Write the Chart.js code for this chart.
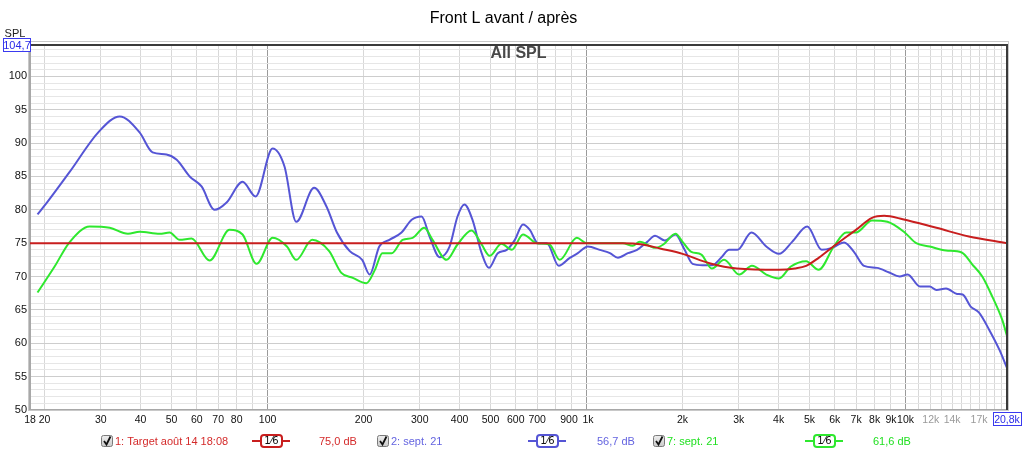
<!DOCTYPE html>
<html>
<head>
<meta charset="utf-8">
<title>Front L avant / après</title>
<script src="https://cdn.jsdelivr.net/npm/chart.js@4.4.0/dist/chart.umd.min.js"></script>
<style>
  body { margin: 0; background: #fff; }
  #wrap { width: 1024px; height: 452px; }
</style>
</head>
<body>
<div id="wrap"><canvas id="myChart" width="1024" height="452"></canvas></div>
<script>
// frequency (Hz) / level (dB)
var targetFreq = [18, 1300, 1500, 1700, 2000, 2430, 2960, 4010, 4500, 4880, 5340, 6050, 6990, 7850, 8570, 9800, 12500, 15800, 20800];
var targetDb = [75, 75, 74.8, 74.2, 73.4, 72.0, 71.2, 71.0, 71.2, 71.6, 72.8, 74.8, 77.0, 78.8, 79.1, 78.6, 77.3, 76.0, 75.0];

var beforeFreq = [19, 20.5, 23.9, 29.7, 34.4, 39.7, 43.6, 48.2, 51.9, 57, 62.1, 68.2, 74.4, 83.5, 91.7, 103.7, 113, 123, 140, 153, 165, 181, 198, 209, 224, 241, 263, 283, 304, 322, 346, 372, 394, 414, 439, 469, 494, 527, 562, 596, 632, 664, 704, 751, 818, 886, 939, 1010, 1100, 1184, 1254, 1348, 1440, 1550, 1640, 1760, 1900, 2030, 2150, 2310, 2480, 2640, 2800, 2970, 3290, 3660, 4010, 4410, 4920, 5460, 5880, 6420, 6890, 7410, 8140, 8890, 9580, 10150, 11100, 11900, 12500, 13400, 14500, 15100, 16000, 17000, 18300, 19700, 20800];
var beforeDb = [79.3, 81.3, 85.6, 91.8, 94.0, 91.6, 88.6, 88.3, 87.5, 85.0, 83.5, 80.0, 81.1, 84.2, 82.0, 89.2, 86.5, 78.2, 83.3, 80.5, 76.6, 73.8, 72.5, 70.3, 74.5, 75.5, 76.6, 78.5, 79.0, 76.0, 72.9, 74.5, 79.0, 80.8, 78.5, 73.5, 71.3, 73.5, 74.0, 75.5, 77.8, 77.0, 75.0, 75.0, 71.6, 72.8, 73.5, 74.5, 74.0, 73.5, 72.8, 73.5, 74.0, 75.2, 76.1, 75.4, 76.3, 74.0, 71.9, 71.7, 71.7, 72.8, 74.0, 74.0, 76.6, 74.5, 73.4, 75.2, 77.5, 74.0, 74.3, 75.1, 73.7, 71.6, 71.3, 70.6, 70.0, 70.3, 68.5, 68.5, 68.0, 68.2, 67.4, 67.3, 65.5, 64.6, 62.0, 59.0, 56.3];

var afterFreq = [19, 21.5, 23.9, 27.7, 32, 36.5, 39.7, 45.9, 49.3, 53, 57.8, 65.8, 76, 83.5, 92.4, 103.7, 115, 123, 138, 156, 170, 185, 204, 217, 229, 245, 265, 285, 310, 329, 364, 394, 436, 469, 497, 541, 583, 632, 698, 765, 824, 932, 1000, 1127, 1300, 1395, 1468, 1640, 1740, 1900, 2000, 2130, 2290, 2470, 2700, 3010, 3300, 3660, 4010, 4370, 4880, 5340, 5960, 6520, 6990, 7850, 8770, 9940, 10800, 11900, 13400, 15000, 16200, 17400, 18700, 20100, 20800];
var afterDb = [67.6, 71.5, 75.1, 77.5, 77.3, 76.4, 76.7, 76.4, 76.6, 75.5, 75.7, 72.4, 77.0, 76.3, 71.9, 75.8, 74.5, 72.5, 75.5, 73.8, 70.6, 69.8, 69.0, 71.0, 73.5, 73.5, 75.5, 75.8, 77.3, 75.5, 72.5, 74.8, 76.9, 74.8, 73.1, 74.9, 74.0, 76.3, 75.0, 74.8, 72.5, 75.8, 75.0, 75.0, 75.0, 74.6, 75.2, 74.3, 74.8, 76.4, 75.2, 73.7, 73.3, 71.2, 72.5, 70.3, 71.6, 70.3, 69.7, 71.5, 72.3, 71.0, 74.5, 76.6, 76.6, 78.4, 78.2, 76.6, 75.0, 74.5, 73.9, 73.6, 71.8, 70.0, 67.0, 63.5, 61.1];

// axis ticks
var freqTicks = [18, 20, 30, 40, 50, 60, 70, 80, 90, 100, 200, 300, 400, 500, 600, 700, 800, 900, 1000, 2000, 3000, 4000, 5000, 6000, 7000, 8000, 9000, 10000, 11000, 12000, 13000, 14000, 15000, 16000, 17000, 18000, 19000, 20000, 20800];
var freqLabels = {
  18: "18", 20: "20", 30: "30", 40: "40", 50: "50", 60: "60", 70: "70", 80: "80", 100: "100",
  200: "200", 300: "300", 400: "400", 500: "500", 600: "600", 700: "700", 900: "900  ", 1000: " 1k",
  2000: "2k", 3000: "3k", 4000: "4k", 5000: "5k", 6000: "6k", 7000: "7k", 8000: "8k", 9000: "9k", 10000: "10k",
  12000: "12k", 14000: "14k", 17000: "17k", 20800: "20,8k"
};
var greyLabels = [12000, 14000, 17000];
var dbMin = 50;
var dbMax = 104.7;

var legendItems = [
  { name: "1: Target août 14 18:08", level: "75,0 dB", color: "#c81e1e", text: "#d42a2a", box: 101, line: 252, value: 319 },
  { name: "2: sept. 21", level: "56,7 dB", color: "#5555d5", text: "#6464e0", box: 377, line: 528, value: 597 },
  { name: "7: sept. 21", level: "61,6 dB", color: "#2ee82e", text: "#22e022", box: 653, line: 805, value: 873 }
];

function toPoints(xs, ys) {
  return xs.map(function (x, i) {
    return { x: x, y: ys[i] };
  });
}

function roundRect(ctx, x, y, w, h, r) {
  ctx.beginPath();
  ctx.moveTo(x + r, y);
  ctx.lineTo(x + w - r, y);
  ctx.quadraticCurveTo(x + w, y, x + w, y + r);
  ctx.lineTo(x + w, y + h - r);
  ctx.quadraticCurveTo(x + w, y + h, x + w - r, y + h);
  ctx.lineTo(x + r, y + h);
  ctx.quadraticCurveTo(x, y + h, x, y + h - r);
  ctx.lineTo(x, y + r);
  ctx.quadraticCurveTo(x, y, x + r, y);
  ctx.closePath();
}

// frame, "All SPL", boxed labels and the legend row
var decorPlugin = {
  id: "decor",
  beforeDatasetsDraw: function (chart) {
    var ctx = chart.ctx;
    var a = chart.chartArea;
    ctx.save();
    ctx.font = "bold 16px 'Liberation Sans', Arial, sans-serif";
    ctx.fillStyle = "#484848";
    ctx.textAlign = "center";
    ctx.textBaseline = "middle";
    ctx.fillText("All SPL", (a.left + a.right) / 2, a.top + 9);
    ctx.restore();
  },
  afterDraw: function (chart) {
    var ctx = chart.ctx;
    var a = chart.chartArea;
    ctx.save();
    // outer frame
    ctx.strokeStyle = "#c8c8c8";
    ctx.lineWidth = 1;
    ctx.strokeRect(a.left - 1.5, a.top - 3.5, a.right - a.left + 3, a.bottom - a.top + 4);
    ctx.strokeStyle = "#3a3a3a";
    ctx.lineWidth = 2;
    ctx.beginPath();
    ctx.moveTo(a.left, a.top);
    ctx.lineTo(a.right, a.top);
    ctx.lineTo(a.right, a.bottom);
    ctx.stroke();

    ctx.font = "11px 'Liberation Sans', Arial, sans-serif";
    ctx.textAlign = "center";
    ctx.textBaseline = "middle";
    ctx.fillStyle = "#222";
    ctx.fillText("SPL", 15, 34);

    // boxed max level
    ctx.fillStyle = "#fff";
    ctx.fillRect(3, 38, 28, 14);
    ctx.strokeStyle = "#3a3af0";
    ctx.lineWidth = 1;
    ctx.strokeRect(3.5, 38.5, 27, 13);
    ctx.fillStyle = "#2a2ae8";
    ctx.fillText(dbMax.toString().replace(".", ","), 17, 45.5);

    // boxed right frequency
    ctx.strokeRect(993.5, 412.5, 28, 13);

    // legend row
    var y = 441;
    legendItems.forEach(function (it) {
      // checkbox
      var g = ctx.createLinearGradient(0, y - 6, 0, y + 6);
      g.addColorStop(0, "#f0f0f0");
      g.addColorStop(1, "#c8c8c8");
      ctx.fillStyle = g;
      roundRect(ctx, it.box + 0.5, y - 5.5, 11, 11, 2);
      ctx.fill();
      ctx.strokeStyle = "#7a7a7a";
      ctx.lineWidth = 1;
      ctx.stroke();
      ctx.strokeStyle = "#111";
      ctx.lineWidth = 1.8;
      ctx.beginPath();
      ctx.moveTo(it.box + 3, y);
      ctx.lineTo(it.box + 5.5, y + 3.5);
      ctx.lineTo(it.box + 9.5, y - 4.5);
      ctx.stroke();

      ctx.font = "11px 'Liberation Sans', Arial, sans-serif";
      ctx.textAlign = "left";
      ctx.fillStyle = it.text;
      ctx.fillText(it.name, it.box + 14, y + 0.5);
      ctx.fillText(it.level, it.value, y + 0.5);

      // line sample with smoothing box
      ctx.strokeStyle = it.color;
      ctx.lineWidth = 2;
      ctx.beginPath();
      ctx.moveTo(it.line, y);
      ctx.lineTo(it.line + 38, y);
      ctx.stroke();
      ctx.fillStyle = "#fff";
      roundRect(ctx, it.line + 9, y - 6, 21, 12, 3);
      ctx.fill();
      ctx.stroke();
      ctx.fillStyle = "#111";
      ctx.textAlign = "center";
      ctx.font = "10px 'DejaVu Sans', sans-serif";
      ctx.fillText("1⁄6", it.line + 19.5, y + 0.5);
    });
    ctx.restore();
  }
};

var ctx = document.getElementById("myChart").getContext("2d");
var myChart = new Chart(ctx, {
  type: "line",
  data: {
    datasets: [
      {
        label: "1: Target août 14 18:08",
        data: toPoints(targetFreq, targetDb),
        borderColor: "#c81e1e",
        order: 0
      },
      {
        label: "7: sept. 21",
        data: toPoints(afterFreq, afterDb),
        borderColor: "#2ee82e",
        order: 1
      },
      {
        label: "2: sept. 21",
        data: toPoints(beforeFreq, beforeDb),
        borderColor: "#5555d5",
        order: 2
      }
    ]
  },
  options: {
    responsive: false,
    animation: false,
    datasets: {
      line: {
        borderWidth: 2,
        pointRadius: 0,
        fill: false,
        cubicInterpolationMode: "monotone"
      }
    },
    layout: { padding: { left: 0, right: 17, top: 0, bottom: 0 } },
    plugins: {
      legend: { display: false },
      tooltip: { enabled: false },
      title: {
        display: true,
        text: "Front L avant / après",
        color: "#000",
        font: { family: "'Liberation Sans', Arial, sans-serif", size: 16, weight: "normal", lineHeight: 1.2 },
        padding: { top: 9, bottom: 16.8 }
      }
    },
    scales: {
      x: {
        type: "logarithmic",
        min: 18,
        max: 20800,
        afterBuildTicks: function (scale) {
          scale.ticks = freqTicks.map(function (v) {
            return { value: v };
          });
        },
        afterFit: function (scale) {
          scale.height = 42;
        },
        border: { color: "#a8a8a8", width: 2 },
        grid: {
          drawTicks: false,
          color: function (c) {
            var v = c.tick ? c.tick.value : 0;
            if (v === 18 || v === 20800) return "rgba(0,0,0,0)";
            if (v === 100 || v === 1000 || v === 10000) return "#9a9a9a";
            return "#d8d8d8";
          }
        },
        ticks: {
          autoSkip: false,
          maxRotation: 0,
          padding: 4,
          font: { family: "'Liberation Sans', Arial, sans-serif", size: 10.5 },
          color: function (c) {
            var v = c.tick.value;
            if (greyLabels.indexOf(v) >= 0) return "#9a9a9a";
            if (v === 20800) return "#2a2ae8";
            return "#111";
          },
          callback: function (value) {
            return freqLabels[value] || "";
          }
        }
      },
      y: {
        type: "linear",
        min: dbMin,
        max: dbMax,
        afterBuildTicks: function (scale) {
          var t = [];
          for (var v = dbMin; v <= 104; v++) t.push({ value: v });
          scale.ticks = t;
        },
        afterFit: function (scale) {
          scale.width = 30;
        },
        border: { color: "#a8a8a8", width: 2 },
        grid: {
          drawTicks: false,
          color: function (c) {
            var v = c.tick ? c.tick.value : 0;
            if (v === dbMin) return "rgba(0,0,0,0)";
            return v % 5 === 0 ? "#cdcdcd" : "#e6e6e6";
          }
        },
        ticks: {
          autoSkip: false,
          padding: 3,
          font: { family: "'Liberation Sans', Arial, sans-serif", size: 11 },
          color: "#111",
          callback: function (value) {
            return value % 5 === 0 ? String(value) : "";
          }
        }
      }
    }
  },
  plugins: [decorPlugin]
});
</script>
</body>
</html>
